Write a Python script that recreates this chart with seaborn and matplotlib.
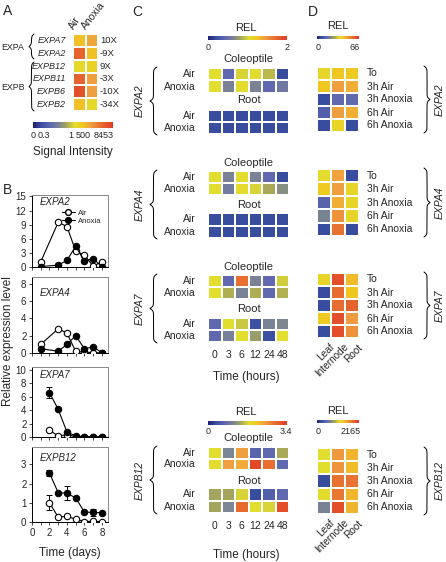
import numpy as np
import pandas as pd
import matplotlib
matplotlib.use("Agg")
import matplotlib.pyplot as plt
import seaborn as sns
from matplotlib.colors import LinearSegmentedColormap, Normalize
from matplotlib.cm import ScalarMappable
from matplotlib.lines import Line2D

# ---------------- data ----------------
# Panel A (signal intensity)
a_genes = ["EXPA7", "EXPA2", "EXPB12", "EXPB11", "EXPB6", "EXPB2"]
a_air = [1640, 6180, 364, 6180, 7130, 1640]
a_anoxia = [2770, 1640, 500, 3150, 3150, 364]
a_fold = ["10X", "-9X", "9X", "-3X", "-10X", "-34X"]
a_tick_vals = [0, 0.3, 1, 500, 8453]
a_tick_labels = ["0", "0.3", "1", "500", "8453"]

# Panel B (relative expression level vs time in days)
b_days_a = [1, 3, 4, 5, 6, 7, 8]
b_days_b = [2, 3, 4, 5, 6, 7, 8]
b_expa2_air = [1.1, 9.5, 8.6, 3.4, 2.5, 0.2, 1.1]
b_expa2_anox = [0.1, 0.4, 1.4, 4.4, 1.3, 1.8, 0.05]
b_expa4_air = [1.0, 2.8, 2.3, 0.2, 0.1, 0.05, 0.0]
b_expa4_anox = [0.5, 0.2, 1.0, 2.0, 0.5, 0.7, 0.05]
b_expa7_air = [1.0, 0.15, 0.35, 0.05, 0.0, 0.0, 0.0]
b_expa7_anox = [6.6, 4.1, 0.75, 0.15, 0.05, 0.05, 0.05]
b_expa7_anox_err = [0.8, 0, 0, 0, 0, 0, 0]
b_expb12_air = [1.0, 0.25, 0.3, 0.14, 0.02, 0.04, 0.02]
b_expb12_air_err = [0.4, 0, 0, 0, 0, 0, 0]
b_expb12_anox = [2.55, 1.52, 1.5, 1.25, 0.52, 0.5, 0.48]
b_expb12_anox_err = [0.15, 0, 0.38, 0, 0, 0.17, 0]

# Panel C (REL, columns = hours)
c_hours = ["0", "3", "6", "12", "24", "48"]
c_expa2_col_air = [1.04, 0.44, 1.0, 1.06, 0.9, 0.2]
c_expa2_col_anox = [1.04, 0.64, 1.06, 0.64, 0.44, 0.56]
c_expa2_root_air = [0.2, 0.2, 0.19, 0.2, 0.2, 0.2]
c_expa2_root_anox = [0.2, 0.19, 0.2, 0.2, 0.2, 0.2]
c_expa4_col_air = [1.04, 0.64, 1.06, 0.64, 0.44, 0.2]
c_expa4_col_anox = [1.04, 0.58, 1.06, 1.0, 0.84, 0.7]
c_expa4_root_air = [0.2, 0.2, 0.2, 0.2, 0.2, 0.2]
c_expa4_root_anox = [0.2, 0.2, 0.2, 0.2, 0.2, 0.2]
c_expa7_col_air = [1.04, 0.44, 1.68, 0.64, 0.44, 0.98]
c_expa7_col_anox = [1.04, 0.86, 0.64, 0.86, 0.44, 0.88]
c_expa7_root_air = [0.44, 1.04, 0.96, 0.22, 0.64, 0.66]
c_expa7_root_anox = [0.44, 0.62, 1.04, 0.78, 0.22, 1.04]
c_expb12_col_air = [1.77, 1.09, 2.45, 0.68, 0.75, 1.43]
c_expb12_col_anox = [1.8, 2.45, 2.35, 3.26, 2.86, 0.75]
c_expb12_root_air = [1.4, 1.4, 1.7, 0.34, 0.6, 0.75]
c_expb12_root_anox = [1.4, 1.09, 2.9, 1.77, 1.7, 3.2]

# Panel D (REL, rows = treatments, columns = tissues)
d_tissues = ["Leaf", "Internode", "Root"]
d_rows = ["To", "3h Air", "3h Anoxia", "6h Air", "6h Anoxia"]
d_expa2 = [[37, 41, 40], [41, 47.5, 45], [6.6, 14.5, 15], [12, 47.5, 45], [6.6, 37, 6.6]]
d_expa4 = [[35, 47, 6.6], [40, 47.5, 37], [13, 45, 37], [21, 49.5, 37], [6.6, 55, 6.6]]
d_expa7 = [[37, 62, 43], [6.6, 56, 41], [6.6, 56, 58], [40, 62, 48], [6.6, 62, 50]]
d_expb12 = [[1130, 1600, 1450], [1130, 1620, 1400], [217, 1800, 1800], [1150, 1780, 1430], [690, 2030, 1440]]

# ---------------- setup ----------------
W, H = 446, 562
sns.set_theme(style="ticks")
plt.rcParams["font.family"] = ["Liberation Sans", "DejaVu Sans"]
plt.rcParams["axes.linewidth"] = 0.7

cmap = LinearSegmentedColormap.from_list("rel", [
    (0.00, "#1e1e6e"), (0.10, "#3a4ea0"), (0.22, "#6068b0"), (0.32, "#7a8494"),
    (0.42, "#a8a858"), (0.52, "#e2de30"), (0.62, "#f0c820"), (0.72, "#f0a040"),
    (0.84, "#e87030"), (1.00, "#e03a28")])

fig = plt.figure(figsize=(W / 100, H / 100), dpi=100)
fig.patch.set_facecolor("white")


def ax_px(x0, y0, x1, y1):
    return fig.add_axes([x0 / W, 1 - y1 / H, (x1 - x0) / W, (y1 - y0) / H])


ov = fig.add_axes([0, 0, 1, 1], zorder=10)
ov.set_xlim(0, W)
ov.set_ylim(H, 0)
ov.axis("off")
ov.patch.set_alpha(0)


def txt(x, y, s, size=7.5, ha="center", va="center", **kw):
    ov.text(x, y, s, fontsize=size, ha=ha, va=va, **kw)


def brace(x_back, x_tip, y0, y1, beta=0.9):
    L = y1 - y0
    half = np.linspace(0, L / 2, 120)
    yh = 1 / (1 + np.exp(-beta * (half - half[0]))) + 1 / (1 + np.exp(-beta * (half - half[-1])))
    prof = np.concatenate([yh, yh[-2::-1]]) - 0.5
    t = np.concatenate([half, L - half[-2::-1]])
    ov.plot(x_back + (x_tip - x_back) * prof, y0 + t, color="black", lw=0.7)


def heat(data, x0, y0, x1, y1, vmax):
    ax = ax_px(x0, y0, x1, y1)
    sns.heatmap(np.array(data, dtype=float), ax=ax, cmap=cmap, vmin=0, vmax=vmax,
                cbar=False, linewidths=1.3, linecolor="white",
                xticklabels=False, yticklabels=False)
    return ax


def cbar(x0, y0, x1, y1):
    cax = ax_px(x0, y0, x1, y1)
    cb = fig.colorbar(ScalarMappable(norm=Normalize(0, 1), cmap=cmap), cax=cax,
                      orientation="horizontal")
    cb.set_ticks([])
    cb.outline.set_visible(False)


# ---------------- Panel A ----------------
txt(3, 11, "A", 10, ha="left")
a_frac_pos = [0, 0.12, 0.47, 0.58, 1.0]
a_mat = np.column_stack([np.interp(a_air, a_tick_vals, a_frac_pos),
                         np.interp(a_anoxia, a_tick_vals, a_frac_pos)])
a_y0, a_y1 = 34, 111
heat(a_mat, 73, a_y0, 98, a_y1, 1.0)
rh = (a_y1 - a_y0) / len(a_genes)
for i, (g, f) in enumerate(zip(a_genes, a_fold)):
    yc = a_y0 + rh * (i + 0.5)
    txt(66, yc, g, 6.5, ha="right", style="italic")
    txt(100, yc, f, 6.8, ha="left")
ov.text(76, 31, "Air", fontsize=7.5, rotation=58, ha="left", va="bottom", rotation_mode="anchor")
ov.text(88, 31, "Anoxia", fontsize=7.5, rotation=52, ha="left", va="bottom", rotation_mode="anchor")
brace(34, 29, 34, 59)
brace(34, 29, 62, 111)
txt(1.5, 47, "EXPA", 6.4, ha="left")
txt(1.5, 88, "EXPB", 6.4, ha="left")
cbar(33, 122, 113, 128)
a_label_x = [33, 44, 71, 83, 104]
for xp, lab in zip(a_label_x, a_tick_labels):
    txt(xp, 135, lab, 6.5)
txt(73, 152, "Signal Intensity", 8.5)

# ---------------- Panel B ----------------
txt(3, 190, "B", 10, ha="left")
b_panels = [
    ("EXPA2", 195, 267, (0, 15.3), [0, 3, 6, 9, 12, 15], 202, b_days_a,
     b_expa2_air, b_expa2_anox, None, None),
    ("EXPA4", 277, 353, (0, 8.8), [0, 2, 4, 6, 8], 293, b_days_a,
     b_expa4_air, b_expa4_anox, None, None),
    ("EXPA7", 367, 437, (0, 10.4), [0, 2, 4, 6, 8, 10], 375, b_days_b,
     b_expa7_air, b_expa7_anox, None, b_expa7_anox_err),
    ("EXPB12", 447, 522, (0, 3.9), [0, 1, 2, 3], 458, b_days_b,
     b_expb12_air, b_expb12_anox, b_expb12_air_err, b_expb12_anox_err),
]
for k, (gene, top, bot, ylim, yt, ly, days, air, anox, air_err, anox_err) in enumerate(b_panels):
    ax = ax_px(32, top, 108, bot)
    df = pd.DataFrame({"day": days + days, "value": air + anox,
                       "cond": ["Air"] * len(days) + ["Anoxia"] * len(days)})
    for errs, vals in ((air_err, air), (anox_err, anox)):
        if errs is not None:
            idx = [i for i, e in enumerate(errs) if e > 0]
            ax.errorbar([days[i] for i in idx], [vals[i] for i in idx],
                        yerr=[errs[i] for i in idx], fmt="none", ecolor="black",
                        elinewidth=0.7, capsize=2, capthick=0.7, zorder=2)
    sns.lineplot(data=df[df.cond == "Air"], x="day", y="value", ax=ax, color="black",
                 lw=0.8, marker="o", markersize=4.6, markerfacecolor="white",
                 markeredgecolor="black", markeredgewidth=0.8, errorbar=None, zorder=3)
    sns.lineplot(data=df[df.cond == "Anoxia"], x="day", y="value", ax=ax, color="black",
                 lw=0.8, marker="o", markersize=4.6, markerfacecolor="black",
                 markeredgecolor="black", markeredgewidth=0.8, errorbar=None, zorder=4)
    ax.set_xlim(0, 8.7)
    ax.set_ylim(*ylim)
    ax.set_yticks(yt)
    ax.set_xticks(range(0, 9))
    if k == 3:
        ax.set_xticklabels(["0", "", "2", "", "4", "", "6", "", "8"])
    else:
        ax.set_xticklabels([])
    ax.set_xlabel("")
    ax.set_ylabel("")
    ax.tick_params(axis="both", length=2.5, width=0.6, labelsize=7, pad=1.5)
    for s in ("top", "right"):
        ax.spines[s].set_color("#888888")
    for s in ("left", "bottom"):
        ax.spines[s].set_color("black")
    ax.text(0.1, 1 - (ly - top) / (bot - top), gene, transform=ax.transAxes,
            fontsize=7, style="italic", ha="left", va="center")
    if k == 0:
        handles = [Line2D([], [], color="black", lw=0.8, marker="o", ms=4.2, mfc="white", mec="black"),
                   Line2D([], [], color="black", lw=0.8, marker="o", ms=4.2, mfc="black", mec="black")]
        ax.legend(handles, ["Air", "Anoxia"], loc="upper right", bbox_to_anchor=(0.97, 0.86),
                  fontsize=5.5, frameon=False, handlelength=1.8, handletextpad=0.3,
                  labelspacing=0.1, borderpad=0.1)
txt(8, 341, "Relative expression level", 8.5, rotation=90)
txt(70, 553, "Time (days)", 8.5)

# ---------------- Panel C ----------------
txt(137, 12, "C", 10)
C_x0, C_x1 = 208, 289
c_blocks = [
    ("EXPA2", 59, (68, 93), 100, (110, 134), c_expa2_col_air, c_expa2_col_anox,
     c_expa2_root_air, c_expa2_root_anox, 2.0),
    ("EXPA4", 163, (171, 195), 205, (213, 238), c_expa4_col_air, c_expa4_col_anox,
     c_expa4_root_air, c_expa4_root_anox, 2.0),
    ("EXPA7", 267, (275, 299), 309, (318, 342), c_expa7_col_air, c_expa7_col_anox,
     c_expa7_root_air, c_expa7_root_anox, 2.0),
    ("EXPB12", 438, (447, 470), 481, (488, 513), c_expb12_col_air, c_expb12_col_anox,
     c_expb12_root_air, c_expb12_root_anox, 3.4),
]
cw = (C_x1 - C_x0) / len(c_hours)
for gene, ty, (cy0, cy1), ry, (ry0, ry1), ca, cn, ra, rn, vmax in c_blocks:
    heat([ca, cn], C_x0, cy0, C_x1, cy1, vmax)
    heat([ra, rn], C_x0, ry0, C_x1, ry1, vmax)
    txt((C_x0 + C_x1) / 2, ty, "Coleoptile", 8)
    txt((C_x0 + C_x1) / 2, ry, "Root", 8)
    for (y0, y1) in ((cy0, cy1), (ry0, ry1)):
        hh = (y1 - y0) / 2
        txt(196, y0 + hh * 0.5, "Air", 7.5, ha="right")
        txt(196, y0 + hh * 1.5, "Anoxia", 7.5, ha="right")
    txt(140, (cy0 + ry1) / 2, gene, 7.5, rotation=90, style="italic")
    brace(157, 150, cy0 - 1, ry1 + 1)
    if gene in ("EXPA7", "EXPB12"):
        for i, h in enumerate(c_hours):
            txt(C_x0 + cw * (i + 0.5), ry1 + 13, h, 7.5)
        txt(246, ry1 + 35 if gene == "EXPA7" else ry1 + 42, "Time (hours)", 8.5)

cbar(208, 36, 287, 40)
txt(246, 28, "REL", 8)
txt(208, 47, "0", 6.5)
txt(287, 47, "2", 6.5)
cbar(208, 421, 287, 425)
txt(246, 412, "REL", 8)
txt(208, 431, "0", 6.5)
txt(286, 431, "3.4", 6.5)

# ---------------- Panel D ----------------
txt(313, 12, "D", 10)
D_x0, D_x1 = 317, 359
d_blocks = [("EXPA2", 67, 132, d_expa2, 66), ("EXPA4", 169, 236, d_expa4, 66),
            ("EXPA7", 273, 338, d_expa7, 66), ("EXPB12", 448, 514, d_expb12, 2165)]
dw = (D_x1 - D_x0) / len(d_tissues)
for gene, y0, y1, mat, vmax in d_blocks:
    heat(mat, D_x0, y0, D_x1, y1, vmax)
    rh = (y1 - y0) / len(d_rows)
    for i, r in enumerate(d_rows):
        txt(367, y0 + rh * (i + 0.5), r, 7.5, ha="left")
    brace(424, 430, y0 - 1, y1 + 1)
    txt(440, (y0 + y1) / 2, gene, 7.5, rotation=90, style="italic")
    if gene in ("EXPA7", "EXPB12"):
        for i, t in enumerate(d_tissues):
            ov.text(D_x0 + dw * (i + 0.5) + 5, y1 + 4, t, fontsize=7.2, rotation=45,
                    ha="right", va="top", rotation_mode="anchor")

cbar(317, 36, 359, 39)
txt(338, 26, "REL", 8)
txt(318, 47, "0", 6.5)
txt(355, 47, "66", 6.5)
cbar(317, 420, 359, 423)
txt(338, 411, "REL", 8)
txt(318, 431, "0", 6.5)
txt(351, 431, "2165", 6.5)

fig.savefig("out.png", dpi=100, facecolor="white")
